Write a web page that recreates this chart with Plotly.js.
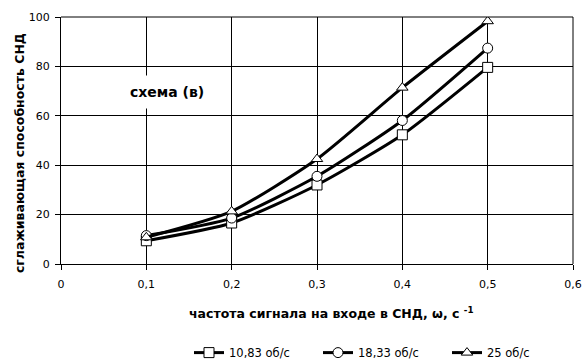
<!DOCTYPE html>
<html><head><meta charset="utf-8">
<script src="https://cdn.plot.ly/plotly-3.0.1.min.js"></script>
<style>html,body{margin:0;padding:0;background:#fff}#chart{width:584px;height:359px}</style>
</head><body><div id="chart"></div>
<script>
const freq = [0.1, 0.2, 0.3, 0.4, 0.5];
const s1083 = [9.4, 16.6, 32.0, 52.3, 79.6];
const s1833 = [11.5, 18.6, 35.5, 58.1, 87.4];
const s25 = [10.8, 21.3, 42.5, 71.4, 98.3];
const seriesNames = ['10,83 об/с', '18,33 об/с', '25 об/с'];
const xTicks = [0, 0.1, 0.2, 0.3, 0.4, 0.5, 0.6];
const xTickText = ['0', '0,1', '0,2', '0,3', '0,4', '0,5', '0,6'];
const yTicks = [0, 20, 40, 60, 80, 100];
const xTitle = '<b>частота сигнала на входе в СНД, ω, с <sup>-1</sup></b>';
const yTitle = '<b>сглаживающая способность СНД</b>';
const noteText = '<b>схема (в)</b>';

const fam = 'DejaVu Sans, sans-serif';
const font = {family: fam, size: 11, color: '#000'};
function tr(y, name, sym) {
  return {x: freq, y: y, name: name, type: 'scatter', mode: 'lines+markers',
    line: {color: '#000', width: 3, shape: 'spline', smoothing: 0.6},
    marker: {symbol: sym, size: 10, color: '#fff', line: {color: '#000', width: 1}}};
}
const data = [tr(s1083, seriesNames[0], 'square'), tr(s1833, seriesNames[1], 'circle'), tr(s25, seriesNames[2], 'triangle-up')];
const layout = {
  width: 584, height: 359,
  margin: {l: 61, r: 11, t: 17, b: 95, autoexpand: false},
  paper_bgcolor: '#fff', plot_bgcolor: '#fff',
  font: font,
  showlegend: true,
  legend: {orientation: 'h', x: 0.25, xanchor: 'left', y: -0.3, yanchor: 'top',
    font: {family: fam, size: 11.5, color: '#000'}, itemwidth: 30, tracegroupgap: 0, entrywidth: 84},
  xaxis: {range: [0, 0.6], tickvals: xTicks, ticktext: xTickText, showgrid: true, gridcolor: '#000', gridwidth: 1,
    showline: true, linecolor: '#000', linewidth: 1, mirror: false, ticks: 'outside', ticklen: 5, tickcolor: '#000', zeroline: false,
    ticklabelstandoff: 5, automargin: false},
  yaxis: {range: [0, 100], tickvals: yTicks, showgrid: true, gridcolor: '#000', gridwidth: 1,
    showline: true, linecolor: '#000', linewidth: 1, ticks: 'outside', ticklen: 5, tickcolor: '#000', zeroline: false,
    ticklabelstandoff: 3, automargin: false},
  shapes: [{type: 'line', xref: 'paper', yref: 'paper', x0: 1, x1: 1, y0: 0, y1: 1, line: {color: '#000', width: 1}},
           {type: 'line', xref: 'paper', yref: 'paper', x0: 0, x1: 1, y0: 1, y1: 1, line: {color: '#000', width: 1}}],
  annotations: [
    {x: 0.124, y: 69.5, xref: 'x', yref: 'y', text: noteText, showarrow: false,
      font: {family: fam, size: 14, color: '#000'}, bgcolor: '#fff', borderpad: 8},
    {x: 0.529, y: -0.198, xref: 'paper', yref: 'paper', xanchor: 'center', yanchor: 'middle', text: xTitle, showarrow: false,
      font: {family: fam, size: 12.5, color: '#000'}},
    {x: -0.082, y: 0.449, xref: 'paper', yref: 'paper', xanchor: 'center', yanchor: 'middle', text: yTitle, showarrow: false,
      textangle: -90, font: {family: fam, size: 12.5, color: '#000'}}
  ]
};
Plotly.newPlot('chart', data, layout, {displayModeBar: false, staticPlot: true});
</script></body></html>
